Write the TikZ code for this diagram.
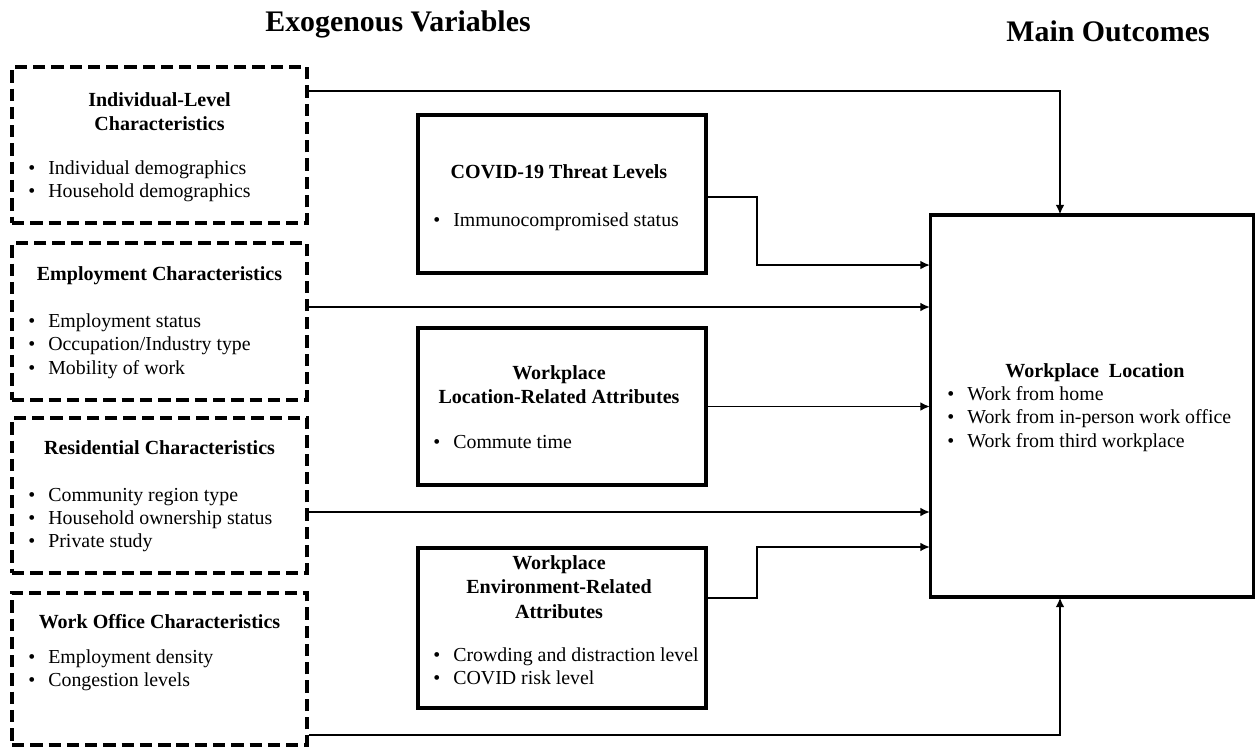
\documentclass[tikz,border=0pt]{standalone}
\usepackage{fontspec}
\setmainfont{Liberation Serif}
\usetikzlibrary{arrows.meta,calc}
\newcommand{\itm}[1]{\makebox[4mm][l]{\textbullet}#1}
\begin{document}
\begin{tikzpicture}[x=0.02cm,y=-0.02cm]
\tikzset{
dbox/.style={draw,line width=2.2pt,dash pattern=on 7pt off 3.4pt,minimum width=5.9cm,inner sep=0pt},
sbox/.style={draw,line width=2.2pt,minimum width=5.76cm,inner sep=0pt},
ttl/.style={align=center,inner sep=0pt,font={\fontsize{11.4pt}{13.8pt}\selectfont\bfseries}},
lst/.style={align=left,anchor=west,inner sep=0pt,font={\fontsize{11.3pt}{13.3pt}\selectfont}},
hdr/.style={inner sep=0pt,font={\fontsize{17pt}{20pt}\selectfont\bfseries}},
arr/.style={-{Latex[length=5.5pt,width=5pt]},line width=1.1pt,shorten >=-0.8pt}
}
\useasboundingbox (0,0) rectangle (1257,751);

\node[hdr] (exo) at (398,24) {Exogenous Variables};
\node[hdr] (main) at (1108,31) {Main Outcomes};

% exogenous boxes
\node[dbox,minimum height=3.12cm] (ind) at (159.5,145) {};
\node[dbox,minimum height=3.14cm] (emp) at (159.5,321.5) {};
\node[dbox,minimum height=3.1cm] (res) at (159.5,495.5) {};
\node[dbox,minimum height=3.04cm] (off) at (159.5,669) {};

\node[ttl] (indT) at (159.5,112) {Individual-Level\\Characteristics};
\node[lst] (indL) at (28,181) {\itm{Individual demographics}\\\itm{Household demographics}};
\node[ttl] (empT) at (159.5,276) {Employment Characteristics};
\node[lst] (empL) at (28,346) {\itm{Employment status}\\\itm{Occupation/Industry type}\\\itm{Mobility of work}};
\node[ttl] (resT) at (159.5,448) {Residential Characteristics};
\node[lst] (resL) at (28,520) {\itm{Community region type}\\\itm{Household ownership status}\\\itm{Private study}};
\node[ttl] (offT) at (159.5,622) {Work Office Characteristics};
\node[lst] (offL) at (28,670) {\itm{Employment density}\\\itm{Congestion levels}};

% middle boxes
\node[sbox,minimum height=3.16cm] (cov) at (562,194) {};
\node[sbox,minimum height=3.14cm] (loc) at (562,406.5) {};
\node[sbox,minimum height=3.2cm] (env) at (562,628) {};

\node[ttl] (covT) at (559,172) {COVID-19 Threat Levels};
\node[lst] (covL) at (433,222) {\itm{Immunocompromised status}};
\node[ttl] (locT) at (559,385) {Workplace\\Location-Related Attributes};
\node[lst] (locL) at (433,442) {\itm{Commute time}};
\node[ttl] (envT) at (559,587) {Workplace\\Environment-Related\\Attributes};
\node[lst] (envL) at (433,666) {\itm{Crowding and distraction level}\\\itm{COVID risk level}};

% outcome
\node[sbox,minimum width=6.46cm,minimum height=7.64cm] (out) at (1092,406) {};
\node[ttl] (outT) at (1095,373) {Workplace\ \ Location};
\node[lst] (outL) at (947,419) {\itm{Work from home}\\\itm{Work from in-person work office}\\\itm{Work from third workplace}};

\coordinate (e1) at ([yshift=0.29cm]emp.east);
\coordinate (e2) at ([yshift=-0.33cm]res.east);

\draw[arr] ([yshift=-0.52cm]ind.north east) -| ([xshift=-0.64cm]out.north);
\draw[arr] (e1) -- (e1 -| out.west);
\draw[arr] (e2) -- (e2 -| out.west);
\draw[arr] ([yshift=-1.32cm]off.east) -| ([xshift=-0.64cm]out.south);
\draw[arr] ([yshift=-0.06cm]cov.east) -- ++(49,0) |- ([yshift=2.82cm]out.west);
\draw[arr] (loc.east) -- (loc.east -| out.west);
\draw[arr] ([yshift=0.6cm]env.east) -- ++(49,0) |- ([yshift=-2.82cm]out.west);
\end{tikzpicture}
\end{document}
